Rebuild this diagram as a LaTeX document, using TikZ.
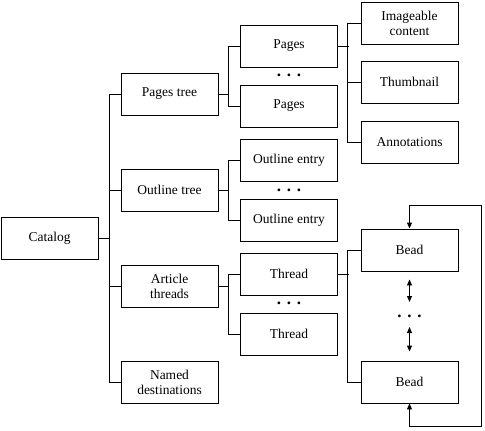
\documentclass[tikz,border=0pt]{standalone}
\usepackage{fontspec}
\setmainfont{Liberation Serif}
\usepackage{tikz}
\usetikzlibrary{arrows.meta}

\begin{document}
\begin{tikzpicture}[x=1pt,y=-1pt,line width=.9pt,
	box/.style={draw,minimum width=97pt,minimum height=42pt,inner sep=0pt,align=center,
		font=\fontsize{13.5}{15}\selectfont},
	dots/.style={inner sep=0pt,font=\fontsize{17}{18}\selectfont\bfseries},
	tip/.style={{Triangle[length=6pt,width=5pt]}-{Triangle[length=6pt,width=5pt]}}]
	\useasboundingbox (0,0) rectangle (485,431);

		\node[box] at (49.5,238) (catalog) {Catalog};

		\node[box] at (169.5,94)  (pagestree)   {Pages tree};
		\node[box] at (169.5,190) (outlinetree) {Outline tree};
		\node[box] at (169.5,286) (threads)     {Article\\threads};
		\node[box] at (169.5,382) (nameddest)   {Named\\destinations};

		\node[box] at (289,46)  (pages1)   {Pages};
		\node[box] at (289,106) (pages2)   {Pages};
		\node[box] at (289,160) (outline1) {Outline entry};
		\node[box] at (289,220) (outline2) {Outline entry};
		\node[box] at (289,274) (thread1)  {Thread};
		\node[box] at (289,334) (thread2)  {Thread};

		\node[box] at (409.5,23)  (content) {Imageable\\content};
		\node[box] at (409.5,82)  (thumb)   {Thumbnail};
		\node[box] at (409.5,142) (annots)  {Annotations};
		\node[box] at (409.5,250) (bead1)   {Bead};
		\node[box] at (409.5,382) (bead2)   {Bead};

		\node[dots] at (289,75)    (pagesdots)   {. . .};
		\node[dots] at (289,190)   (outlinedots) {. . .};
		\node[dots] at (289,303)   (threaddots)  {. . .};
		\node[dots] at (409.5,316) (beaddots)    {. . .};

		%catalog
		\coordinate (trunk) at (109,238);
		\draw (catalog.east) -- (trunk);
		\draw (trunk |- pagestree.west) -- (trunk |- nameddest.west);
		\foreach \n in {pagestree,outlinetree,threads,nameddest}
			\draw (trunk |- \n.west) -- (\n.west);

		%second level
		\draw (pagestree.east) -- ++(11,0);
		\draw (pages1.west) -- ++(-12,0) |- (pages2.west);
		\draw (outlinetree.east) -- ++(11,0);
		\draw (outline1.west) -- ++(-12,0) |- (outline2.west);
		\draw (threads.east) -- ++(11,0);
		\draw (thread1.west) -- ++(-12,0) |- (thread2.west);

		%third level
		\draw (pages1.east) -- ++(11,0);
		\draw (content.west) -- ++(-13,0) |- (annots.west);
		\draw (thumb.west) -- ++(-13,0);
		\draw (thread1.east) -- ++(11,0);
		\draw (bead1.west) -- ++(-13,0) |- (bead2.west);

		%beads
		\coordinate (loop) at (481,205);
		\draw[tip] (bead2.south) -- ++(0,23) -| (loop) -| (bead1.north);
		\draw[tip] ([yshift=-8pt]bead1.south) -- ([yshift=14pt]beaddots.center);
		\draw[tip] ([yshift=-11pt]beaddots.center) -- ([yshift=9pt]bead2.north);
\end{tikzpicture}
\end{document}
